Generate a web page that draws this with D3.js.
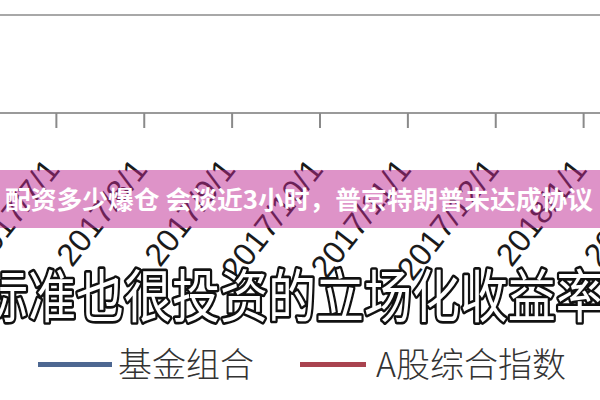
<!DOCTYPE html>
<html><head><meta charset="utf-8">
<script src="https://cdn.jsdelivr.net/npm/d3@7/dist/d3.min.js"></script>
<style>html,body{margin:0;padding:0;background:#fff;}svg{display:block;}</style>
</head><body>
<svg id="c" width="600" height="400"></svg>
<script>
const categories = ["2017/6/1","2017/7/1","2017/8/1","2017/9/1","2017/10/1","2017/11/1","2017/12/1","2018/1/1","2018/2/1"];
const yTicks = [0, 100];
const seriesNames = ["基金组合","A股综合指数"];
const bannerText = "配资多少爆仓 会谈近3小时，普京特朗普未达成协议";
const captionText = "标准也很投资的立场化收益率";

const svg = d3.select("#c");
const x = d3.scalePoint().domain(categories).range([-32, 671]);
const y = d3.scaleLinear().domain([0, 100]).range([113, 15]);

// gridlines
svg.append("g").selectAll("line").data(yTicks.filter(d => d !== 0)).join("line")
  .attr("x1", 0).attr("x2", 600).attr("y1", d => y(d)).attr("y2", d => y(d))
  .attr("stroke", "#a8a8a8").attr("stroke-width", 2);

// x axis
const xAxis = d3.axisBottom(x).tickSize(15).tickFormat("");
const gx = svg.append("g").attr("transform", `translate(0,${y(0)})`).call(xAxis);
gx.select(".domain").attr("stroke", "#9a9a9a").attr("stroke-width", 2).attr("d", "M0,0H600");
gx.selectAll(".tick line").attr("stroke", "#8a8a8a").attr("stroke-width", 2);

// rotated labels
svg.append("g").selectAll("text").data(categories).join("text")
  .attr("transform", d => `translate(${x(d) + 5},170) rotate(-52)`)
  .attr("text-anchor", "end")
  .attr("font-family", "Liberation Sans, Arial, sans-serif")
  .attr("font-size", 32)
  .attr("fill", "#1a1a1a")
  .text(d => d);

// banner
svg.append("rect").attr("x", 0).attr("y", 170).attr("width", 600).attr("height", 58)
  .attr("fill", "rgb(190,40,145)").attr("fill-opacity", 0.5);
svg.append("text").attr("x", 5).attr("y", 209)
  .attr("font-family", "Noto Sans CJK SC").attr("font-weight", 700)
  .attr("font-size", 25).attr("fill", "#fff")
  .attr("textLength", 588).attr("lengthAdjust", "spacingAndGlyphs")
  .text(bannerText);

// caption outlined
svg.append("text").attr("transform", "translate(-20,317) scale(1,1.18)")
  .attr("font-family", "Noto Sans CJK SC").attr("font-weight", 400)
  .attr("font-size", 48).attr("fill", "#fff")
  .attr("stroke", "#111").attr("stroke-width", 4.5).attr("paint-order", "stroke")
  .attr("stroke-linejoin", "round")
  .text(captionText);

// legend
const legendColors = ["#4d6791", "#a9434f"];
const legendX = [38, 300];
const lg = svg.append("g").selectAll("g").data(seriesNames).join("g")
  .attr("transform", (d, i) => `translate(${legendX[i]},0)`);
lg.append("line").attr("x1", 0).attr("x2", (d, i) => i === 0 ? 74 : 66)
  .attr("y1", 364.5).attr("y2", 364.5)
  .attr("stroke", (d, i) => legendColors[i]).attr("stroke-width", 5);
lg.append("text").attr("x", (d, i) => i === 0 ? 80 : 76).attr("y", 377)
  .attr("font-family", "Noto Sans CJK SC").attr("font-weight", 300)
  .attr("font-size", 34).attr("fill", "#333")
  .text(d => d);
</script>
</body></html>
